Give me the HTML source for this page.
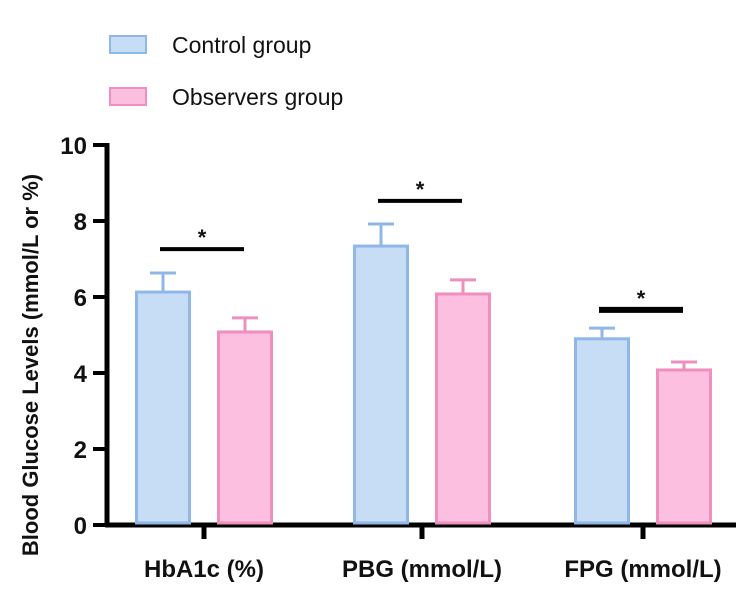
<!DOCTYPE html>
<html><head><meta charset="utf-8"><style>
body{margin:0;background:#fff;}
svg{display:block;font-family:"Liberation Sans",Arial,sans-serif;}
</style></head><body>
<svg id="chart" width="750" height="614" viewBox="0 0 750 614">
<g>
<g>
<rect x="110" y="36" width="36" height="17" fill="#c7dcf5" stroke="#8fb8e8" stroke-width="2"/>
<text x="172" y="53" font-size="23" fill="#111">Control group</text></g>
<g>
<rect x="110" y="88" width="36" height="17" fill="#fdbfdf" stroke="#ee8fbd" stroke-width="2"/>
<text x="172" y="105" font-size="23" fill="#111">Observers group</text></g>
</g>
<text transform="translate(38,365) rotate(-90)" text-anchor="middle" font-size="22" font-weight="bold" fill="#111">Blood Glucose Levels (mmol/L or %)</text>
<g id="axes"></g>
<g id="marks"></g>
</svg>
<script>
const categories=["HbA1c (%)","PBG (mmol/L)","FPG (mmol/L)"];
const controlValues=[6.13,7.34,4.9];
const controlErrors=[0.5,0.58,0.28];
const observerValues=[5.08,6.08,4.08];
const observerErrors=[0.37,0.37,0.21];
const yTicks=[0,2,4,6,8,10];
const sigLevels=[7.26,8.53,5.66];
const NS="http://www.w3.org/2000/svg";
const y0=525,pxPer=38,axX=107;
function y(v){return y0-v*pxPer;}
const groupCenters=[204,422,643];
function xc(i){return groupCenters[i];}
function mk(t,a,p){const e=document.createElementNS(NS,t);for(const k in a)e.setAttribute(k,a[k]);p.appendChild(e);return e;}
const axes=document.getElementById('axes'),marks=document.getElementById('marks');
let l=mk('line',{x1:axX,y1:y(10)-2,x2:axX,y2:y0+2,stroke:'#000','stroke-width':5},axes);


l=mk('line',{x1:axX-2,y1:y0,x2:736,y2:y0,stroke:'#000','stroke-width':5},axes);


yTicks.forEach(t=>{
 let tk=mk('line',{x1:axX-14,y1:y(t),x2:axX,y2:y(t),stroke:'#000','stroke-width':4},axes);
 
 
 let tx=mk('text',{x:axX-20,y:y(t)+9,'text-anchor':'end','font-size':24,'font-weight':'bold',fill:'#111'},axes);
 tx.textContent=t;
 
 
});
categories.forEach((c,i)=>{
 let tk=mk('line',{x1:xc(i),y1:y0,x2:xc(i),y2:y0+14,stroke:'#000','stroke-width':5},axes);
 
 
 let tx=mk('text',{x:xc(i),y:577,'text-anchor':'middle','font-size':24,'font-weight':'bold',fill:'#111'},axes);
 tx.textContent=c;
 
 
 const bw=53;
 [[controlValues,controlErrors,-41,'#c7dcf5','#8fb8e8','control'],[observerValues,observerErrors,41,'#fdbfdf','#ee8fbd','observers']].forEach(s=>{
  const v=s[0][i],e=s[1][i],cx=xc(i)+s[2];
  let er=mk('path',{d:`M${cx},${y(v)} V${y(v+e)} M${cx-13},${y(v+e)} H${cx+13}`,stroke:s[4],'stroke-width':3,fill:'none'},marks);
  
  
  let b=mk('rect',{x:cx-bw/2,y:y(v),width:bw,height:y0-y(v)-2,fill:s[3],stroke:s[4],'stroke-width':3},marks);
  
  
 });
 const sy=y(sigLevels[i]);
 let br=mk('line',{x1:xc(i)-44,y1:sy,x2:xc(i)+40,y2:sy,stroke:'#000','stroke-width':i==2?6:4},marks);
 
 
 let st=mk('text',{x:xc(i)-2,y:sy-4,'text-anchor':'middle','font-size':22,'font-weight':'bold',fill:'#111'},marks);
 st.textContent='*';
 
 
});
</script>
</body></html>
